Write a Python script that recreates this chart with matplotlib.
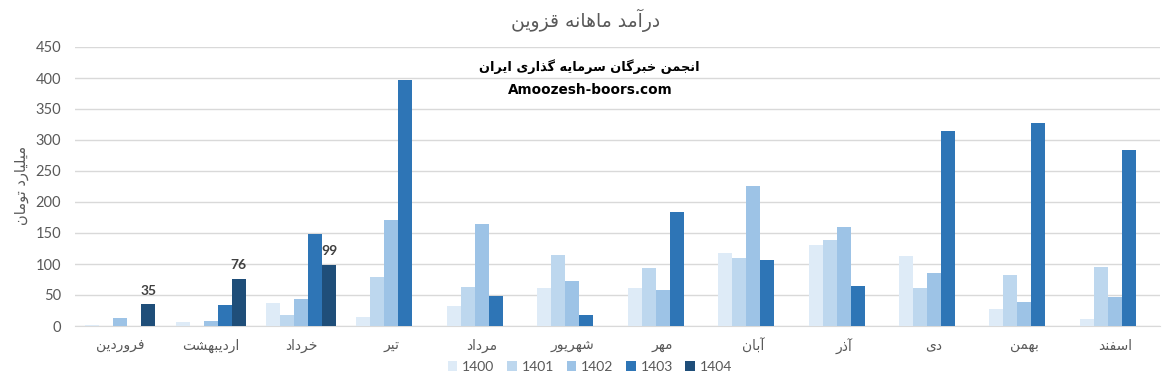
import matplotlib
matplotlib.use('Agg')
import matplotlib.pyplot as plt
import numpy as np
from matplotlib.patches import Patch

# ---------------- data ----------------
months = ['فروردین', 'اردیبهشت', 'خرداد', 'تیر', 'مرداد', 'شهریور',
          'مهر', 'آبان', 'آذر', 'دی', 'بهمن', 'اسفند']
years = ['1400', '1401', '1402', '1403', '1404']
v1400 = [2, 6, 37, 14, 32, 61, 61, 118, 131, 113, 27, 11]
v1401 = [0, 0, 18, 79, 63, 115, 94, 110, 139, 61, 82, 95]
v1402 = [13, 8, 44, 171, 165, 73, 58, 226, 160, 86, 39, 47]
v1403 = [0, 34, 149, 397, 48, 18, 184, 107, 65, 315, 328, 284]
v1404 = [35, 76, 99, 0, 0, 0, 0, 0, 0, 0, 0, 0]
labels_1404 = ['35', '76', '99']

title = 'درآمد ماهانه قزوین'
ylabel = 'میلیارد تومان'
wm1 = 'انجمن خبرگان سرمایه گذاری ایران'
wm2 = 'Amoozesh-boors.com'

colors = ['#DEEBF7', '#BDD7EE', '#9DC3E6', '#2E75B6', '#1F4E79']

# ------------- minimal Persian shaping -------------
FORMS = {
    '\u0627': ('\uFE8D', '\uFE8E', None, None),
    '\u0622': ('\uFE81', '\uFE82', None, None),
    '\u0628': ('\uFE8F', '\uFE90', '\uFE91', '\uFE92'),
    '\u062A': ('\uFE95', '\uFE96', '\uFE97', '\uFE98'),
    '\u062C': ('\uFE9D', '\uFE9E', '\uFE9F', '\uFEA0'),
    '\u062E': ('\uFEA5', '\uFEA6', '\uFEA7', '\uFEA8'),
    '\u062F': ('\uFEA9', '\uFEAA', None, None),
    '\u0630': ('\uFEAB', '\uFEAC', None, None),
    '\u0631': ('\uFEAD', '\uFEAE', None, None),
    '\u0632': ('\uFEAF', '\uFEB0', None, None),
    '\u0633': ('\uFEB1', '\uFEB2', '\uFEB3', '\uFEB4'),
    '\u0634': ('\uFEB5', '\uFEB6', '\uFEB7', '\uFEB8'),
    '\u0641': ('\uFED1', '\uFED2', '\uFED3', '\uFED4'),
    '\u0642': ('\uFED5', '\uFED6', '\uFED7', '\uFED8'),
    '\u0644': ('\uFEDD', '\uFEDE', '\uFEDF', '\uFEE0'),
    '\u0645': ('\uFEE1', '\uFEE2', '\uFEE3', '\uFEE4'),
    '\u0646': ('\uFEE5', '\uFEE6', '\uFEE7', '\uFEE8'),
    '\u0647': ('\uFEE9', '\uFEEA', '\uFEEB', '\uFEEC'),
    '\u0648': ('\uFEED', '\uFEEE', None, None),
    '\u06CC': ('\uFBFC', '\uFBFD', '\uFBFE', '\uFBFF'),
    '\u06AF': ('\uFB92', '\uFB93', '\uFB94', '\uFB95'),
}


def fa(text):
    out = []
    n = len(text)
    for i, ch in enumerate(text):
        if ch not in FORMS:
            out.append(ch)
            continue
        prev = text[i - 1] if i > 0 else None
        nxt = text[i + 1] if i + 1 < n else None
        iso, fin, ini, med = FORMS[ch]
        jp = prev in FORMS and FORMS[prev][2] is not None
        jn = ini is not None and nxt in FORMS
        if jp and jn:
            out.append(med)
        elif jp:
            out.append(fin)
        elif jn:
            out.append(ini)
        else:
            out.append(iso)
    return ''.join(reversed(out))


plt.rcParams['font.family'] = ['Lato', 'DejaVu Sans']

fig = plt.figure(figsize=(11.68, 3.85), dpi=100)
ax = fig.add_axes([75 / 1168, 1 - 326 / 385, (1160 - 75) / 1168, (326 - 47) / 385])

x = np.arange(len(months))
w = 0.155
series = [v1400, v1401, v1402, v1403, v1404]
for k, (vals, c) in enumerate(zip(series, colors)):
    bars = ax.bar(x + (k - 2) * w, vals, width=w, color=c, zorder=3)
    if k == 4:
        for b, lab in zip(bars[:len(labels_1404)], labels_1404):
            ax.text(b.get_x() + b.get_width() / 2, b.get_height() + 12, lab,
                    ha='center', va='bottom', fontsize=10, fontweight='bold',
                    color='#404040')

ax.set_xlim(-0.5, len(months) - 0.5)
ax.set_ylim(0, 450)
ax.set_yticks(np.arange(0, 451, 50))
ax.yaxis.grid(True, color='#D9D9D9', linewidth=1, zorder=0)
ax.set_axisbelow(True)
for s in ['top', 'right', 'left']:
    ax.spines[s].set_visible(False)
ax.spines['bottom'].set_color('#D9D9D9')
ax.tick_params(axis='y', length=0, labelsize=10.5, labelcolor='#595959', pad=10)
ax.tick_params(axis='x', length=0, labelsize=10, labelcolor='#595959', pad=9)
ax.set_xticks(x)
ax.set_xticklabels([fa(m) for m in months], family='DejaVu Sans')

fig.text(22 / 1168, 1 - 185 / 385, fa(ylabel), rotation=90, ha='center',
         va='center', fontsize=10.5, color='#595959', family='DejaVu Sans')
fig.text(586 / 1168, 1 - 20 / 385, fa(title), ha='center', va='center',
         fontsize=13.5, color='#595959', family='DejaVu Sans')
fig.text(589 / 1168, 1 - 67 / 385, fa(wm1), ha='center', va='center',
         fontsize=9.3, fontweight='bold', color='black', family='DejaVu Sans')
fig.text(590 / 1168, 1 - 90 / 385, wm2, ha='center', va='center',
         fontsize=9.8, fontweight='bold', color='black', family='DejaVu Sans')

handles = [Patch(facecolor=c, edgecolor='none') for c in colors]
fig.legend(handles, years, loc='center', bbox_to_anchor=(590 / 1168, 1 - 367 / 385),
           ncol=5, frameon=False, fontsize=10, handlelength=0.7, handleheight=0.7,
           handletextpad=0.35, columnspacing=0.9, labelcolor='#595959')

fig.savefig('out.png', dpi=100)
